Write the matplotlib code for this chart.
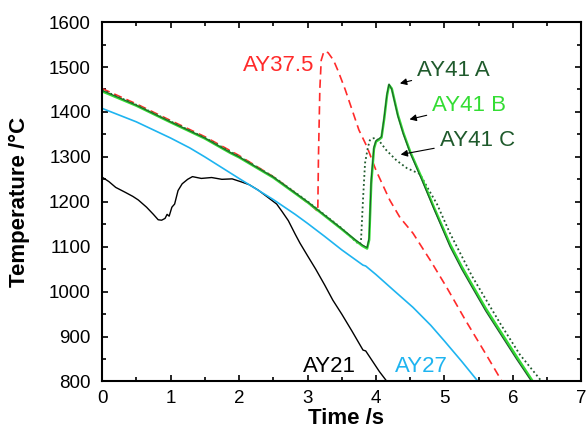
import matplotlib
matplotlib.use("Agg")
import matplotlib.pyplot as plt
from matplotlib.ticker import MultipleLocator

plt.rcParams["font.family"] = ["Liberation Sans", "DejaVu Sans"]

# AY41 A (dark green, solid)
t_a = [0, 0.5, 1.0, 1.5, 1.87, 2.0, 2.5, 3.0, 3.15, 3.5, 3.7, 3.8, 3.87, 3.9,
       3.93, 3.97, 4.0, 4.04, 4.08, 4.12, 4.16, 4.19, 4.23, 4.32, 4.4, 4.5,
       4.67, 4.85, 5.08, 5.25, 5.4, 5.6, 5.81, 6.05, 6.27]
T_a = [1448, 1415, 1378, 1342, 1310, 1300, 1255, 1200, 1182, 1140, 1115, 1104,
       1098, 1120, 1250, 1322, 1336, 1340, 1345, 1390, 1440, 1462, 1450, 1390,
       1350, 1308, 1248, 1182, 1100, 1050, 1010, 957, 907, 850, 800]

# AY41 B (bright green, solid)
t_b = [0, 0.5, 1.0, 1.5, 1.87, 2.0, 2.5, 3.0, 3.15, 3.5, 3.7, 3.8, 3.87, 3.9,
       3.93, 3.97, 4.0, 4.04, 4.08, 4.12, 4.16, 4.19, 4.23, 4.32, 4.4, 4.5,
       4.67, 4.85, 5.08, 5.25, 5.4, 5.6, 5.81, 6.05, 6.29]
T_b = [1446, 1414, 1377, 1341, 1309, 1299, 1254, 1199, 1181, 1139, 1114, 1102,
       1096, 1115, 1240, 1318, 1334, 1338, 1343, 1385, 1436, 1460, 1452, 1393,
       1353, 1311, 1252, 1186, 1106, 1056, 1016, 963, 913, 856, 800]

# AY41 C (dark green, dotted)
t_c = [0, 0.5, 1.0, 1.5, 2.0, 2.5, 3.0, 3.15, 3.5, 3.7, 3.76, 3.78, 3.81,
       3.84, 3.88, 3.91, 3.95, 3.99, 4.05, 4.15, 4.3, 4.45, 4.64, 4.75, 4.89,
       5.08, 5.4, 5.81, 6.1, 6.42]
T_c = [1449, 1416, 1379, 1343, 1301, 1256, 1201, 1183, 1141, 1112, 1105, 1110,
       1204, 1286, 1320, 1337, 1341, 1342, 1335, 1315, 1292, 1275, 1262, 1232,
       1195, 1130, 1035, 930, 860, 800]

# AY37.5 (red, dashed)
t_r = [0, 0.5, 1.0, 1.5, 2.0, 2.5, 2.75, 3.0, 3.1, 3.15, 3.16, 3.18, 3.2, 3.24,
       3.3, 3.38, 3.45, 3.55, 3.65, 3.75, 3.87, 4.0, 4.2, 4.35, 4.54, 4.8, 5.03,
       5.3, 5.6, 5.84]
T_r = [1452, 1418, 1381, 1345, 1303, 1256, 1228, 1198, 1186, 1178, 1300, 1450,
       1515, 1535, 1532, 1515, 1490, 1450, 1405, 1360, 1322, 1270, 1204, 1165,
       1130, 1068, 1010, 938, 862, 800]

# AY27 (blue)
t_27 = [0, 0.5, 1.0, 1.28, 1.5, 2.0, 2.5, 2.82, 3.0, 3.25, 3.5, 3.81, 3.85, 4.0,
        4.25, 4.54, 4.8, 5.0, 5.25, 5.49]
T_27 = [1408, 1378, 1342, 1320, 1300, 1252, 1205, 1172, 1152, 1123, 1093, 1059,
        1057, 1038, 1004, 965, 925, 890, 845, 800]

# AY21 (black)
t_21 = [0, 0.1, 0.2, 0.34, 0.45, 0.53, 0.65, 0.75, 0.82, 0.87, 0.92, 0.95, 0.98,
        1.02, 1.06, 1.11, 1.17, 1.25, 1.32, 1.45, 1.6, 1.75, 1.9, 2.04, 2.15,
        2.28, 2.42, 2.55, 2.63, 2.72, 2.82, 2.89, 3.0, 3.12, 3.25, 3.37, 3.5,
        3.65, 3.81, 3.85, 3.95, 4.05, 4.16]
T_21 = [1255, 1245, 1232, 1221, 1212, 1204, 1188, 1172, 1160, 1159, 1163, 1172,
        1168, 1188, 1195, 1225, 1240, 1250, 1256, 1252, 1254, 1250, 1251, 1244,
        1238, 1226, 1210, 1195, 1178, 1158, 1128, 1108, 1080, 1050, 1015, 981,
        950, 912, 870, 868, 845, 822, 800]

dark_green = "#1f5a2c"
bright_green = "#33dd33"
red = "#ff2a2a"
blue = "#1eb4f0"

fig = plt.figure(figsize=(5.87, 4.32), dpi=100)
ax = fig.add_axes([0.1738, 0.1169, 0.8168, 0.832])

ax.plot(t_21, T_21, color="black", lw=1.0)
ax.plot(t_27, T_27, color=blue, lw=1.2)
ax.plot(t_r, T_r, color=red, lw=1.2, dashes=(5, 3))
ax.plot(t_c, T_c, color=dark_green, lw=1.3, dashes=(1, 1.5))
ax.plot(t_b, T_b, color=bright_green, lw=1.8)
ax.plot(t_a, T_a, color=dark_green, lw=0.8)

ax.set_xlim(0, 7)
ax.set_ylim(800, 1600)
ax.xaxis.set_major_locator(MultipleLocator(1))
ax.xaxis.set_minor_locator(MultipleLocator(0.5))
ax.yaxis.set_major_locator(MultipleLocator(100))
ax.yaxis.set_minor_locator(MultipleLocator(50))
ax.tick_params(which="both", direction="in", top=True, right=True, width=1.2)
ax.tick_params(which="major", length=4, labelsize=13.5, colors="black")
ax.tick_params(which="minor", length=3)
ax.tick_params(axis="y", which="major", pad=8)
ax.tick_params(axis="x", which="major", pad=6)
for s in ax.spines.values():
    s.set_linewidth(1.5)

ax.set_xlabel("Time /s", fontsize=16, fontweight="bold")
ax.set_ylabel("Temperature /°C", fontsize=16, fontweight="bold")
ax.xaxis.set_label_coords(0.508, -0.075)
ax.yaxis.set_label_coords(-0.15, 0.5)

lbl = dict(fontsize=16, va="center", ha="left")
ax.text(2.06, 1504, "AY37.5", color=red, **lbl)
ax.text(2.93, 834, "AY21", color="black", **lbl)
ax.text(4.28, 834, "AY27", color=blue, **lbl)

arrow = dict(arrowstyle="-|>", color="black", lw=0.8, mutation_scale=10)
ax.annotate("AY41 A", xy=(4.31, 1462), xytext=(4.6, 1493), color=dark_green,
            arrowprops=arrow, **lbl)
ax.annotate("AY41 B", xy=(4.45, 1382), xytext=(4.82, 1415), color=bright_green,
            arrowprops=arrow, **lbl)
ax.annotate("AY41 C", xy=(4.32, 1304), xytext=(4.93, 1337), color=dark_green,
            arrowprops=arrow, **lbl)

fig.savefig("out.png", dpi=100)
